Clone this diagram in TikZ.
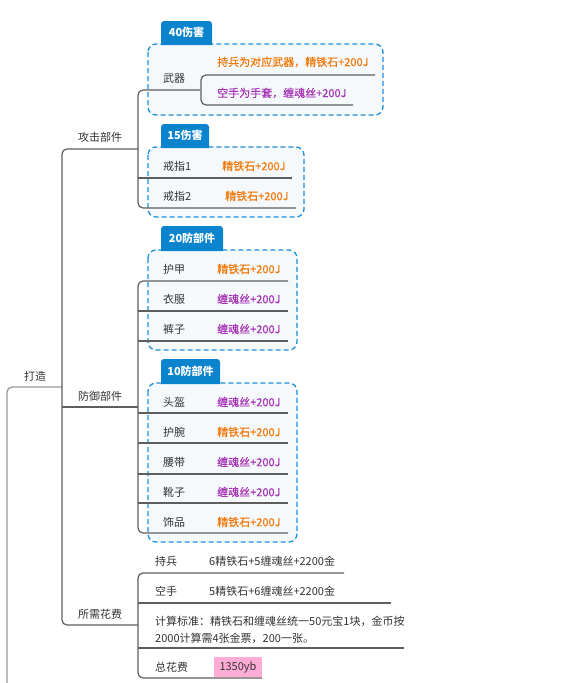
\documentclass[tikz,border=0pt]{standalone}
\usepackage{fontspec}
\setmainfont{Noto Sans CJK SC}
\newfontfamily\valfont{Noto Sans CJK SC}[FakeBold=0.6]
\usetikzlibrary{positioning}
\definecolor{txt}{HTML}{333333}
\definecolor{lineg}{HTML}{5E5E5E}
\definecolor{rootg}{HTML}{999999}
\definecolor{orng}{HTML}{F27A0C}
\definecolor{purp}{HTML}{A633B5}
\definecolor{tabblue}{HTML}{0B84CE}
\definecolor{dashblue}{HTML}{1B90D8}
\definecolor{boxfill}{HTML}{F5F9FC}
\definecolor{pinkbg}{HTML}{FFACD6}
\tikzset{
  lbl/.style={anchor=west, inner sep=0pt, text=txt, font=\fontsize{11}{13}\selectfont},
  ov/.style={lbl, text=orng, font=\valfont\fontsize{11}{13}\selectfont},
  pv/.style={lbl, text=purp, font=\valfont\fontsize{11}{13}\selectfont},
  conn/.style={draw=lineg, line width=1.2pt, rounded corners=5pt},
  rootline/.style={draw=rootg, line width=1.3pt, rounded corners=5pt},
  bndbox/.style={draw=dashblue, fill=boxfill, line width=1.3pt, dash pattern=on 5pt off 3pt, rounded corners=8pt},
  tabtxt/.style={inner sep=0pt, text=white, font=\fontsize{11}{13}\selectfont\bfseries},
}
\begin{document}
\begin{tikzpicture}[x=1pt, y=-1pt]
\useasboundingbox (0,0) rectangle (572,683);
\fill[white] (0,0) rectangle (572,683);

% boundary boxes
\draw[bndbox] (148,44) rectangle (383,115);
\draw[bndbox] (148,147) rectangle (304,217);
\draw[bndbox] (148,250) rectangle (297,350);
\draw[bndbox] (148,383) rectangle (297,542);

% tabs
\fill[tabblue] (161,45) [rounded corners=3pt]-- (161,21) -- (212,21) [sharp corners]-- (212,45) -- cycle;
\fill[tabblue] (161,148) [rounded corners=3pt]-- (161,124) -- (209,124) [sharp corners]-- (209,148) -- cycle;
\fill[tabblue] (161,251) [rounded corners=3pt]-- (161,226) -- (223,226) [sharp corners]-- (223,251) -- cycle;
\fill[tabblue] (161,384) [rounded corners=3pt]-- (161,359) -- (220,359) [sharp corners]-- (220,384) -- cycle;
\node[tabtxt] (t40) at (186.5,32.5) {40伤害};
\node[tabtxt] (t15) at (185,135.5) {15伤害};
\node[tabtxt] (t20) at (192,238) {20防部件};
\node[tabtxt] (t10) at (190.5,371) {10防部件};

% coordinates
\coordinate (rootbot) at (7,683);
\coordinate (rootcorner) at (7,387);
\coordinate (dz) at (62,387);
\coordinate (b1top) at (62,149);
\coordinate (b1bot) at (62,625);
\coordinate (gj) at (138,149);
\coordinate (fy) at (138,407);
\coordinate (sx) at (138,625);
\coordinate (fyl) at (62,407);

% root and level 1
\draw[rootline] (rootbot) -- (rootcorner) -- (dz);
\draw[conn] (gj) -- (b1top) -- (b1bot) -- (sx);
\draw[conn] (fyl) -- (fy);

% attack
\draw[conn] (200,90) -- (138,90) -- (138,208) -- (296,208);
\draw[conn] (138,178) -- (292,178);
\draw[conn] (375,75) -- (201,75) -- (201,105) -- (353,105);

% defence
\draw[conn] (288,281) -- (138,281) -- (138,533) -- (288,533);
\foreach \yy in {311,341,413,443,474,503} { \draw[conn] (138,\yy) -- (288,\yy); }

% cost
\draw[conn] (344,573) -- (138,573) -- (138,678) -- (262,678);
\draw[conn] (138,603) -- (391,603);
\draw[conn] (138,648) -- (404,648);

% pink box
\fill[pinkbg] (214,657) rectangle (262,677.4);

% level texts
\node[lbl] (n_dz) at (24,376) {打造};
\node[lbl] (n_gj) at (78,137) {攻击部件};
\node[lbl] (n_fy) at (78,396) {防御部件};
\node[lbl] (n_sx) at (78,614) {所需花费};

\node[lbl] (n_wq) at (163,78) {武器};
\node[ov] (n_wq1) at (217,62) {持兵为对应武器，精铁石+200J};
\node[pv] (n_wq2) at (217,93) {空手为手套，缠魂丝+200J};
\node[lbl] (n_jz1) at (163,166) {戒指1};
\node[ov] (v_jz1) at (222,166) {精铁石+200J};
\node[lbl] (n_jz2) at (163,196) {戒指2};
\node[ov] (v_jz2) at (225,196) {精铁石+200J};

\node[lbl] (n_hj) at (163,269) {护甲};
\node[ov] (v_hj) at (217,269) {精铁石+200J};
\node[lbl] (n_yf) at (163,299) {衣服};
\node[pv] (v_yf) at (217,299) {缠魂丝+200J};
\node[lbl] (n_kz) at (163,329) {裤子};
\node[pv] (v_kz) at (217,329) {缠魂丝+200J};

\node[lbl] (n_tk) at (163,402) {头盔};
\node[pv] (v_tk) at (217,402) {缠魂丝+200J};
\node[lbl] (n_hw) at (163,432) {护腕};
\node[ov] (v_hw) at (217,432) {精铁石+200J};
\node[lbl] (n_yd) at (163,462) {腰带};
\node[pv] (v_yd) at (217,462) {缠魂丝+200J};
\node[lbl] (n_xz) at (163,492) {靴子};
\node[pv] (v_xz) at (217,492) {缠魂丝+200J};
\node[lbl] (n_sp) at (163,522) {饰品};
\node[ov] (v_sp) at (217,522) {精铁石+200J};

\node[lbl] (n_cb) at (155,561) {持兵};
\node[lbl] (v_cb) at (209,561) {6精铁石+5缠魂丝+2200金};
\node[lbl] (n_ks) at (155,591) {空手};
\node[lbl] (v_ks) at (209,591) {5精铁石+6缠魂丝+2200金};
\node[lbl, align=left, font=\fontsize{11}{17}\selectfont] (n_js) at (155,629.5) {计算标准：精铁石和缠魂丝统一50元宝1块，金币按\\2000计算需4张金票，200一张。};
\node[lbl] (n_zh) at (155,667) {总花费};
\node[lbl, anchor=center] (v_zh) at (238,667) {1350yb};
\end{tikzpicture}
\end{document}
